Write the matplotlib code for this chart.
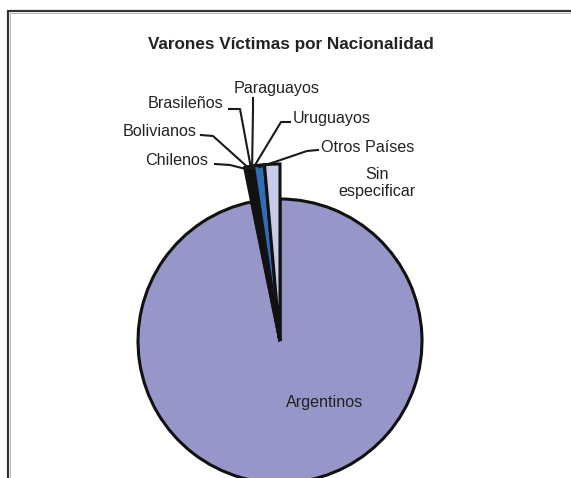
import numpy as np
import matplotlib
matplotlib.use('Agg')
import matplotlib.pyplot as plt

plt.rcParams['font.family'] = ['Liberation Sans', 'DejaVu Sans']

# datos (porcentaje aproximado)
nacionalidades = ['Argentinos', 'Chilenos', 'Bolivianos', 'Brasileños',
                  'Paraguayos', 'Uruguayos', 'Otros Países', 'Sin especificar']
porcentajes = [96.8, 0.3, 0.2, 0.1, 0.1, 0.1, 1.0, 1.4]
colores = ['#9696C8', '#993366', '#FFFFCC', '#CCFFFF',
           '#660066', '#FF8080', '#2F6DB5', '#C9C9E8']
titulo = 'Varones Víctimas por Nacionalidad'

W, H = 571, 478
fig = plt.figure(figsize=(W / 100, H / 100), dpi=100)
ax = fig.add_axes([0, 0, 1, 1])
ax.set_xlim(0, W)
ax.set_ylim(0, H)
ax.set_aspect('equal')
ax.axis('off')

def px(x, y):
    # pasar de pixel (arriba-izquierda) a coordenadas del eje
    return x, H - y

centro = px(280, 341)
radio = 142
radio_chico = 177

wedges, _ = ax.pie(porcentajes, colors=colores, startangle=90, counterclock=False,
                   center=centro, radius=radio,
                   wedgeprops=dict(edgecolor='#111111', linewidth=2.2, joinstyle='miter'))
# las porciones chicas sobresalen del circulo
for w in wedges[1:]:
    w.set_radius(radio_chico)

ax.set_xlim(0, W)
ax.set_ylim(0, H)

def punto(i, r):
    w = wedges[i]
    ang = np.deg2rad((w.theta1 + w.theta2) / 2)
    return centro[0] + r * np.cos(ang), centro[1] + r * np.sin(ang)

# etiquetas con lineas guia: (texto_x, texto_y, ha, inicio linea, codo)
etiquetas = {
    'Chilenos':     ((208, 160), 'right', (215, 164), (230, 165)),
    'Bolivianos':   ((197, 131), 'right', (201, 135), (213, 136)),
    'Brasileños':   ((223, 103), 'right', (229, 109), (240, 109)),
    'Paraguayos':   ((277, 88), 'center', (253, 98), (253, 110)),
    'Uruguayos':    ((293, 118), 'left', (290, 122), (281, 122)),
    'Otros Países': ((321, 147), 'left', (318, 150), (307, 151)),
}

for i, nom in enumerate(nacionalidades):
    if nom in etiquetas:
        (tx, ty), ha, p0, p1 = etiquetas[nom]
        ax.text(*px(tx, ty), nom, ha=ha, va='center', fontsize=11.6, color='#222222')
        p2 = punto(i, radio_chico - 2)
        xs = [px(*p0)[0], px(*p1)[0], p2[0]]
        ys = [px(*p0)[1], px(*p1)[1], p2[1]]
        ax.plot(xs, ys, color='#1a1a1a', lw=1.5, zorder=5)

ax.text(*px(377, 183), 'Sin\nespecificar', ha='center', va='center',
        fontsize=11.6, color='#222222', linespacing=1.1)
ax.text(*px(325, 403), 'Argentinos', ha='center', va='center',
        fontsize=11.6, color='#222222')

ax.text(*px(291, 44), titulo, ha='center', va='center', fontsize=12.3,
        fontweight='bold', color='#222222')

# marco del area del grafico (solo se ve arriba e izquierda)
ax.plot([7.5, 7.5, W], [0, H - 11, H - 11], color='#333333', lw=1.6,
        solid_joinstyle='miter', clip_on=False)
ax.plot([9.5, 9.5, W], [0, H - 13, H - 13], color='#aaaaaa', lw=0.6,
        solid_joinstyle='miter', clip_on=False)

fig.savefig('out.png', dpi=100)
